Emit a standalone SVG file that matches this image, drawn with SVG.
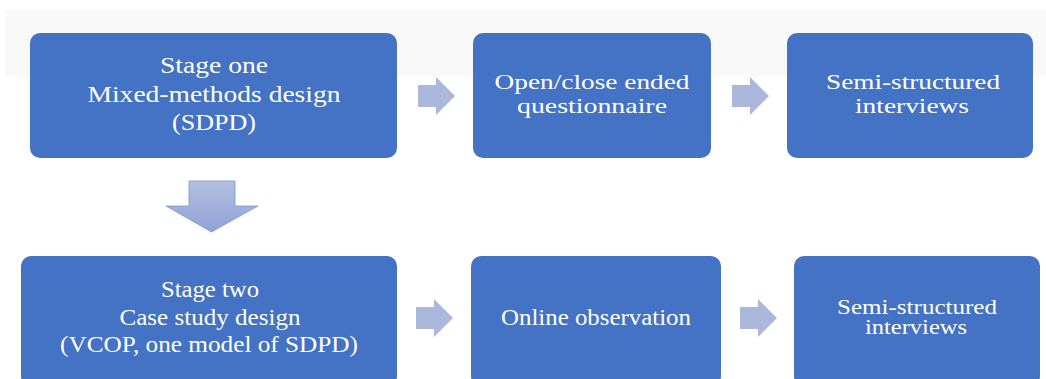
<svg xmlns="http://www.w3.org/2000/svg" width="1046" height="379" viewBox="0 0 1046 379">
  <style>
    .box { fill: #4472c4; }
    .lbl { font-family: "Liberation Serif", "Times New Roman", "DejaVu Serif", serif; font-size: 23.6px; fill: #ffffff; text-anchor: middle; }
    .md { font-size: 21.5px; }
    .sm { font-size: 20px; }
    .arr { fill: #abb8dc; }
  </style>
  <defs>
    <linearGradient id="downGrad" x1="0" y1="0" x2="0" y2="1">
      <stop offset="0" stop-color="#b3bfe2"/>
      <stop offset="1" stop-color="#8fa3d6"/>
    </linearGradient>
    <path id="rightArrow" d="M0,-11 H18 V-19 L37,0 L18,19 V11 H0 Z"/>
  </defs>
  <rect width="1046" height="379" fill="#ffffff"/>
  <rect x="5" y="10" width="1041" height="67" fill="#f9f9f9"/>

  <g id="stage-one">
    <rect class="box" x="30" y="33" width="367" height="125" rx="10"/>
    <text class="lbl" x="214" y="73" textLength="108" lengthAdjust="spacingAndGlyphs">Stage one</text>
    <text class="lbl" x="214" y="102" textLength="253" lengthAdjust="spacingAndGlyphs">Mixed-methods design</text>
    <text class="lbl" x="214" y="130" textLength="84" lengthAdjust="spacingAndGlyphs">(SDPD)</text>
  </g>
  <g id="questionnaire">
    <rect class="box" x="473" y="33" width="238" height="125" rx="10"/>
    <text class="lbl md" x="592" y="89" textLength="195" lengthAdjust="spacingAndGlyphs">Open/close ended</text>
    <text class="lbl md" x="592" y="112.5" textLength="150" lengthAdjust="spacingAndGlyphs">questionnaire</text>
  </g>
  <g id="interviews-one">
    <rect class="box" x="787" y="33" width="246" height="125" rx="10"/>
    <text class="lbl md" x="913" y="89" textLength="174" lengthAdjust="spacingAndGlyphs">Semi-structured</text>
    <text class="lbl md" x="912" y="112.5" textLength="114" lengthAdjust="spacingAndGlyphs">interviews</text>
  </g>
  <g id="stage-two">
    <rect class="box" x="21" y="256" width="376" height="130" rx="10"/>
    <text class="lbl" x="210" y="297" textLength="98" lengthAdjust="spacingAndGlyphs">Stage two</text>
    <text class="lbl" x="210" y="325" textLength="181" lengthAdjust="spacingAndGlyphs">Case study design</text>
    <text class="lbl" x="209" y="352" textLength="298" lengthAdjust="spacingAndGlyphs">(VCOP, one model of SDPD)</text>
  </g>
  <g id="observation">
    <rect class="box" x="471" y="256" width="250" height="130" rx="10"/>
    <text class="lbl" x="596" y="325" textLength="190" lengthAdjust="spacingAndGlyphs">Online observation</text>
  </g>
  <g id="interviews-two">
    <rect class="box" x="794" y="256" width="246" height="130" rx="10"/>
    <text class="lbl sm" x="917" y="314" textLength="160" lengthAdjust="spacingAndGlyphs">Semi-structured</text>
    <text class="lbl sm" x="916" y="334" textLength="102" lengthAdjust="spacingAndGlyphs">interviews</text>
  </g>

  <g id="connectors">
    <use href="#rightArrow" class="arr" x="418" y="96"/>
    <use href="#rightArrow" class="arr" x="732" y="96"/>
    <use href="#rightArrow" class="arr" x="416" y="318"/>
    <use href="#rightArrow" class="arr" x="740" y="318"/>
    <path d="M189,181 H235 V206 H258 L211.5,232 L166,206 H189 Z" fill="url(#downGrad)" stroke="#7f95cf" stroke-width="0.8"/>
  </g>
</svg>
